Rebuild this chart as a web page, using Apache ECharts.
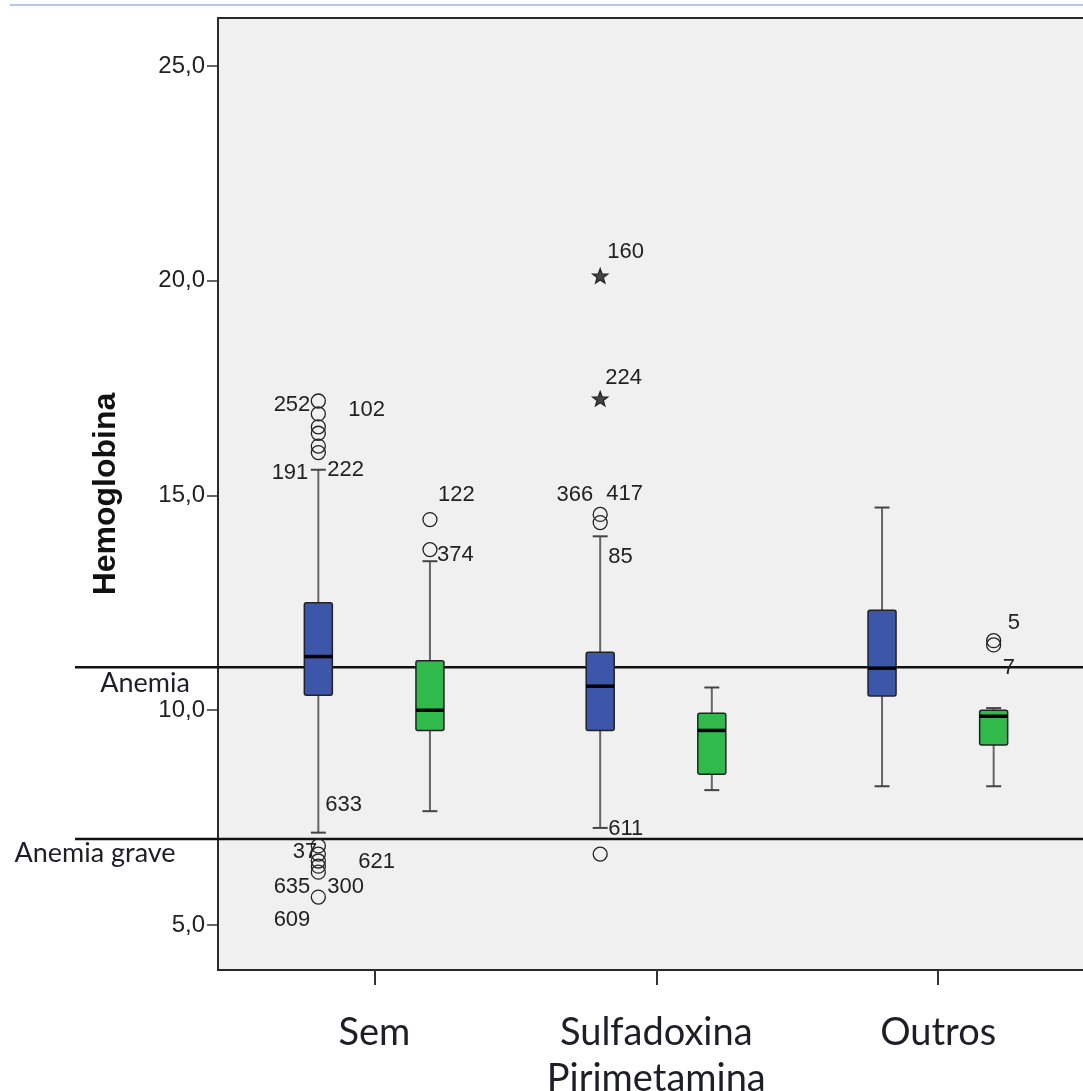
<!DOCTYPE html>
<html>
<head>
<meta charset="utf-8">
<script src="https://cdn.jsdelivr.net/npm/echarts@6/dist/echarts.min.js"></script>
<style>html,body{margin:0;padding:0;background:#fff;overflow:hidden}#c{width:1083px;height:1091px}</style>
</head>
<body>
<div id="c"></div>
<script>
// ---- data ----
const categories = ['Sem', 'Sulfadoxina\nPirimetamina', 'Outros'];
const yTickValues = [5, 10, 15, 20, 25];
// [min, q1, median, q3, max]
const blueStats = [
  [7.15, 10.35, 11.25, 12.5, 15.6],
  [7.26, 9.53, 10.56, 11.35, 14.05],
  [8.23, 10.33, 10.98, 12.33, 14.72]
];
const greenStats = [
  [7.65, 9.53, 10.0, 11.15, 13.47],
  [8.14, 8.51, 9.53, 9.93, 10.53],
  [8.23, 9.19, 9.86, 10.0, 10.05]
];
// [categoryIndex, subgroup (0 = blue, 1 = green), value, case id, kind ('o' circle, '*' extreme)]
const outliers = [
  [0, 0, 17.2, '252', 'o'],
  [0, 0, 16.9, '102', 'o'],
  [0, 0, 16.6, '', 'o'],
  [0, 0, 16.45, '', 'o'],
  [0, 0, 16.15, '222', 'o'],
  [0, 0, 16.0, '191', 'o'],
  [0, 0, 6.84, '633', 'o'],
  [0, 0, 6.65, '37', 'o'],
  [0, 0, 6.49, '621', 'o'],
  [0, 0, 6.37, '300', 'o'],
  [0, 0, 6.23, '635', 'o'],
  [0, 0, 5.65, '609', 'o'],
  [0, 1, 14.44, '122', 'o'],
  [0, 1, 13.74, '374', 'o'],
  [1, 0, 20.12, '160', '*'],
  [1, 0, 17.26, '224', '*'],
  [1, 0, 14.56, '366', 'o'],
  [1, 0, 14.37, '417', 'o'],
  [1, 0, 14.3, '85', 'none'],
  [1, 0, 6.65, '611', 'o'],
  [2, 1, 11.62, '5', 'o'],
  [2, 1, 11.52, '7', 'o']
];
const refLines = [[11.0, 'Anemia'], [7.0, 'Anemia grave']];

// ---- layout / style (not data) ----
const subOffset = [-0.199, 0.197];
const colors = ['#3c56a9', '#2fba4b'];
const labelOffsets = {
  '252': [-8, 4, 'right'], '102': [30, -4, 'left'], '222': [9, 24, 'left'], '191': [-10, 20, 'right'],
  '633': [7, -41, 'left'], '37': [-1, -2, 'right'], '621': [40, 1, 'left'], '300': [9, 21, 'left'],
  '635': [-8, 15, 'right'], '609': [-8, 23, 'right'],
  '122': [8, -25, 'left'], '374': [7, 5, 'left'],
  '160': [7, -24, 'left'], '224': [5, -21, 'left'], '366': [-7, -19, 'right'], '417': [6, -29, 'left'],
  '85': [8, 31, 'left'], '611': [8, -25, 'left'],
  '5': [14, -18, 'left'], '7': [9, 23, 'left']
};
const refLabelPos = { 'Anemia': [145, 16], 'Anemia grave': [95, 14] };

const boxData = [];
blueStats.forEach((s, i) => boxData.push([i + subOffset[0], ...s, 0]));
greenStats.forEach((s, i) => boxData.push([i + subOffset[1], ...s, 1]));

const outlierData = outliers.map(o => [o[0] + subOffset[o[1]], o[2]]);

const fmt = v => v.toFixed(1).replace('.', ',');

const chart = echarts.init(document.getElementById('c'));
chart.setOption({
  animation: false,
  backgroundColor: '#ffffff',
  graphic: [{
    type: 'line', shape: { x1: 10, y1: 5, x2: 1083, y2: 5 },
    style: { stroke: '#b7c7e6', lineWidth: 2 }, z: 10
  }],
  grid: {
    left: 218, top: 18, right: 0, bottom: 121, show: true,
    containLabel: false, outerBoundsMode: 'none',
    backgroundColor: '#f0f0f0', borderWidth: 0
  },
  xAxis: [{
    type: 'value', min: -0.555, max: 2.514, position: 'bottom',
    axisLine: { show: true, onZero: false, lineStyle: { color: '#2a2a2a', width: 2 } },
    splitLine: { show: false },
    axisTick: { show: true, customValues: [0, 1, 2], length: 15, lineStyle: { color: '#333', width: 2 } },
    axisLabel: {
      customValues: [0, 1, 2],
      formatter: v => categories[Math.round(v)],
      fontFamily: 'Lato', fontSize: 38, lineHeight: 46, color: '#1e1e26', margin: 40
    }
  }, {
    type: 'value', min: -0.555, max: 2.514, position: 'top',
    axisLine: { show: true, onZero: false, lineStyle: { color: '#2a2a2a', width: 2 } },
    splitLine: { show: false }, axisTick: { show: false }, axisLabel: { show: false }
  }],
  yAxis: {
    type: 'value', min: 3.952, max: 26.118,
    name: 'Hemoglobina', nameLocation: 'middle', nameRotate: 90, nameGap: 96,
    nameTextStyle: { fontFamily: 'Liberation Sans', fontWeight: 'bold', fontSize: 32, color: '#111' },
    axisLine: { show: true, onZero: false, lineStyle: { color: '#2a2a2a', width: 2 } },
    splitLine: { show: false },
    axisTick: { show: true, customValues: yTickValues, length: 11, lineStyle: { color: '#333', width: 1.5 } },
    axisLabel: {
      customValues: yTickValues, formatter: fmt,
      fontFamily: 'Liberation Sans', fontSize: 24, color: '#222', margin: 13
    }
  },
  series: [
    {
      type: 'custom', name: 'refLines', clip: false, z: 5,
      data: refLines.map(r => [0, r[0]]),
      renderItem: (params, api) => {
        const y = api.coord([0, api.value(1)])[1];
        const name = refLines[params.dataIndex][1];
        const pos = refLabelPos[name];
        return {
          type: 'group', children: [
            { type: 'line', shape: { x1: 75, y1: y, x2: 1083, y2: y }, style: { stroke: '#111', lineWidth: 2.5 } },
            { type: 'text', x: pos[0], y: y + pos[1],
              style: { text: name, fontFamily: 'Lato', fontSize: 27, fill: '#1e1e26', align: 'center', verticalAlign: 'middle' } }
          ]
        };
      }
    },
    {
      type: 'custom', name: 'boxes', z: 6,
      data: boxData,
      renderItem: (params, api) => {
        const x = api.value(0);
        const p = k => api.coord([x, api.value(k)]);
        const pMin = p(1), pQ1 = p(2), pMed = p(3), pQ3 = p(4), pMax = p(5);
        const cx = pMin[0];
        const w = 28, cap = 15;
        const col = colors[api.value(6)];
        return {
          type: 'group', children: [
            { type: 'line', shape: { x1: cx, y1: pQ3[1], x2: cx, y2: pMax[1] }, style: { stroke: '#666', lineWidth: 2 } },
            { type: 'line', shape: { x1: cx, y1: pQ1[1], x2: cx, y2: pMin[1] }, style: { stroke: '#666', lineWidth: 2 } },
            { type: 'line', shape: { x1: cx - cap / 2, y1: pMax[1], x2: cx + cap / 2, y2: pMax[1] }, style: { stroke: '#444', lineWidth: 2 } },
            { type: 'line', shape: { x1: cx - cap / 2, y1: pMin[1], x2: cx + cap / 2, y2: pMin[1] }, style: { stroke: '#444', lineWidth: 2 } },
            { type: 'rect', shape: { x: cx - w / 2, y: pQ3[1], width: w, height: pQ1[1] - pQ3[1], r: 2 },
              style: { fill: col, stroke: '#222', lineWidth: 1.5 } },
            { type: 'line', shape: { x1: cx - w / 2, y1: pMed[1], x2: cx + w / 2, y2: pMed[1] }, style: { stroke: '#000', lineWidth: 3.5 } }
          ]
        };
      }
    },
    {
      type: 'custom', name: 'outliers', z: 7, clip: false,
      data: outlierData,
      renderItem: (params, api) => {
        const pt = api.coord([api.value(0), api.value(1)]);
        const o = outliers[params.dataIndex];
        const children = [];
        if (o[4] === 'o') {
          children.push({ type: 'circle', shape: { cx: pt[0], cy: pt[1], r: 7 }, style: { fill: 'none', stroke: '#222', lineWidth: 1.3 } });
        } else if (o[4] === '*') {
          const pts = [];
          for (let k = 0; k < 10; k++) {
            const a = -Math.PI / 2 + k * Math.PI / 5;
            const r = k % 2 === 0 ? 8 : 3.3;
            pts.push([pt[0] + r * Math.cos(a), pt[1] + 1 + r * Math.sin(a)]);
          }
          children.push({ type: 'polygon', shape: { points: pts }, style: { fill: '#444', stroke: '#222', lineWidth: 1.2 } });
        }
        if (o[3] && labelOffsets[o[3]]) {
          const off = labelOffsets[o[3]];
          children.push({ type: 'text', x: pt[0] + off[0], y: pt[1] + off[1],
            style: { text: o[3], fontFamily: 'Liberation Sans', fontSize: 22, fill: '#222', align: off[2], verticalAlign: 'middle' } });
        }
        return { type: 'group', children };
      }
    }
  ]
});
</script>
</body>
</html>
